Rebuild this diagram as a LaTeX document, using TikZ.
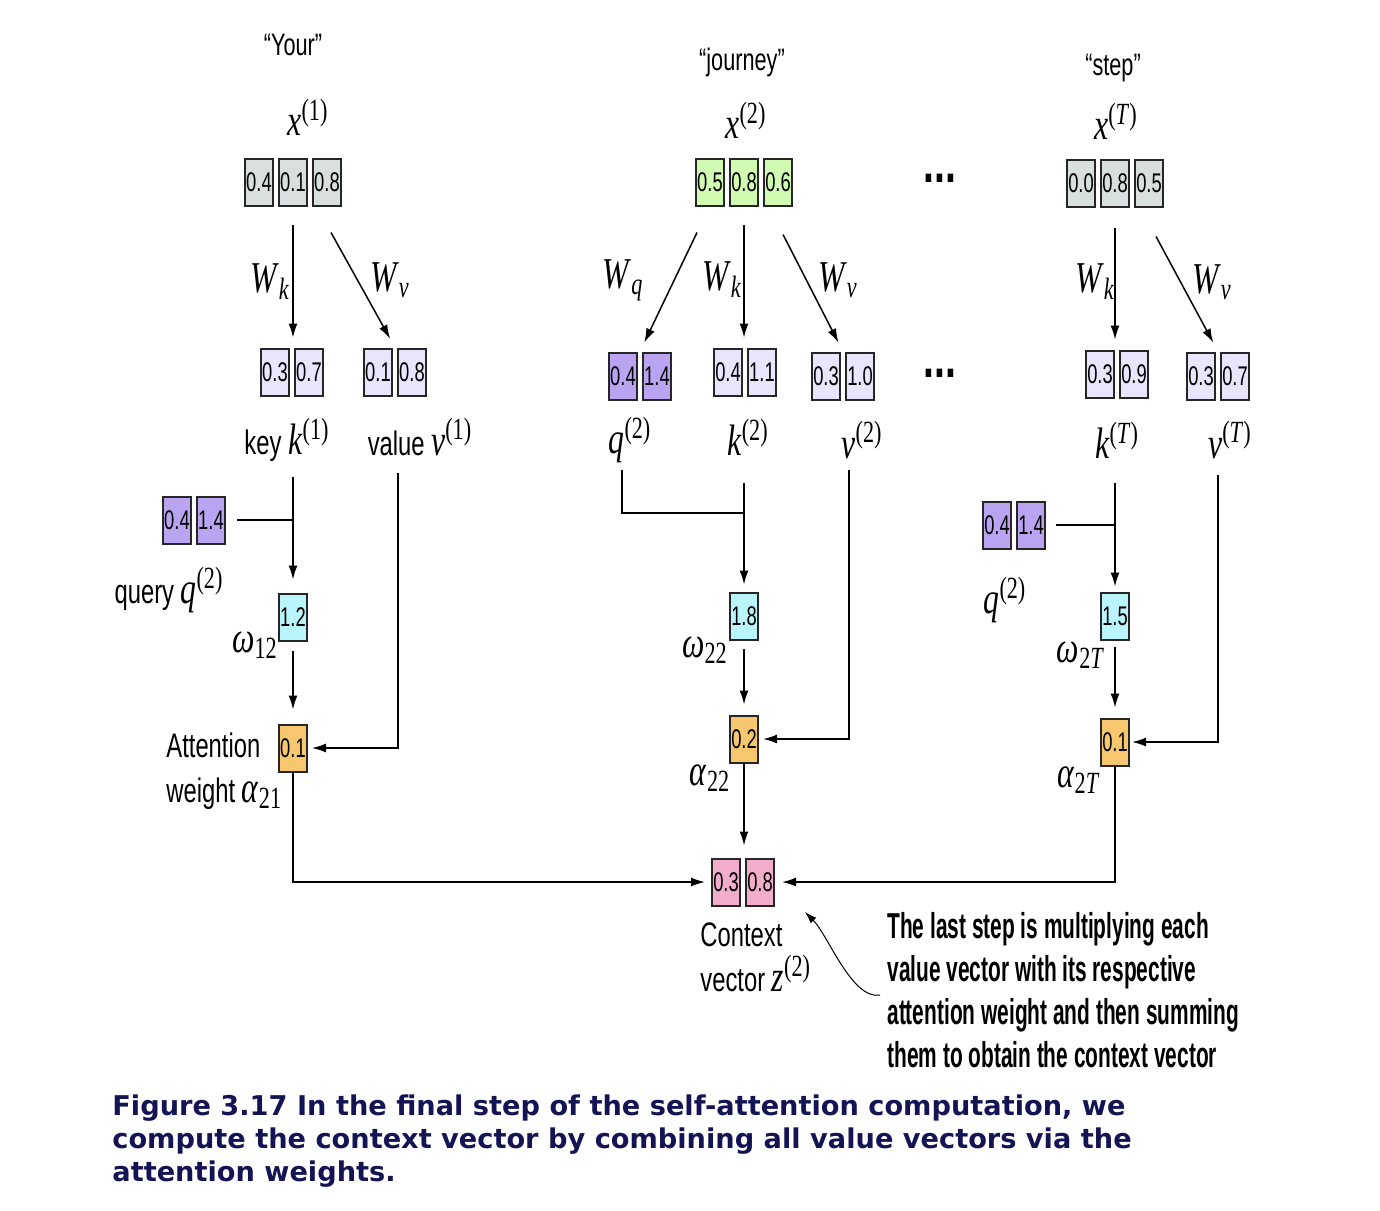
\documentclass[tikz,border=0pt]{standalone}
\usepackage{fontspec}
\setmainfont{Liberation Serif}
\newfontfamily\lblfont[FakeStretch=0.7]{Liberation Sans}
\newfontfamily\numfont[FakeStretch=0.68]{Liberation Sans}
\newfontfamily\varfont[FakeStretch=0.72]{Liberation Serif}
\newfontfamily\notefont[FakeStretch=0.58]{Liberation Sans}
\newfontfamily\capfont{DejaVu Sans}
\usetikzlibrary{positioning,arrows.meta,calc}

\definecolor{inGray}{RGB}{217,222,222}
\definecolor{inGreen}{RGB}{209,250,178}
\definecolor{kvLilac}{RGB}{233,229,252}
\definecolor{qPurple}{RGB}{186,164,242}
\definecolor{wCyan}{RGB}{186,244,252}
\definecolor{aOrange}{RGB}{247,199,112}
\definecolor{zPink}{RGB}{242,172,204}
\definecolor{capNavy}{RGB}{20,20,85}

\newcommand{\sym}[2]{{\varfont\fontsize{22}{24}\selectfont\textit{#1}\textsuperscript{(#2)}}}
\newcommand{\idx}[2]{{\varfont\fontsize{22}{24}\selectfont\textit{#1}\textsubscript{#2}}}

\begin{document}
\begin{tikzpicture}[
    x=0.5pt, y=-0.5pt,
    node distance=2pt,
    cell/.style={draw=black!85, line width=1pt, minimum width=14pt, minimum height=23.5pt, inner sep=0pt, font=\numfont\fontsize{13.5}{15}\selectfont},
    word/.style={inner sep=0pt, font=\lblfont\fontsize{15.5}{18}\selectfont},
    lbl/.style={inner sep=0pt, font=\lblfont\fontsize{17}{22.5}\selectfont},
    var/.style={inner sep=0pt},
    dots/.style={inner sep=0pt, font=\lblfont\bfseries\fontsize{28}{30}\selectfont},
    arr/.style={-{Latex[length=7pt,width=4.5pt]}, line width=0.75pt, shorten >=5pt},
    link/.style={line width=0.75pt}
]
    \useasboundingbox (0,0) rectangle (1380,1210);

    % tokens
    \node[word] (wYour) at (293,45) {“Your”};
    \node[word] (wJourney) at (742,62) {“journey”};
    \node[word] (wStep) at (1113,68) {“step”};
    \node[var] (lx1) at (308,117) {\sym{x}{1}};
    \node[var] (lx2) at (746,120) {\sym{x}{2}};
    \node[var] (lxT) at (1116,121) {\sym{x}{\textit{T}}};

    % input vectors
    \node[cell, fill=inGray] (x1a) at (259,182) {0.4};
    \node[cell, fill=inGray, right=of x1a] (x1b) {0.1};
    \node[cell, fill=inGray, right=of x1b] (x1c) {0.8};
    \node[cell, fill=inGreen] (x2a) at (710,182) {0.5};
    \node[cell, fill=inGreen, right=of x2a] (x2b) {0.8};
    \node[cell, fill=inGreen, right=of x2b] (x2c) {0.6};
    \node[cell, fill=inGray] (xTa) at (1081,183) {0.0};
    \node[cell, fill=inGray, right=of xTa] (xTb) {0.8};
    \node[cell, fill=inGray, right=of xTb] (xTc) {0.5};
    \node[dots] (dotsA) at (940,178) {...};

    % key, value, query vectors
    \node[cell, fill=kvLilac] (k1a) at (275,372) {0.3};
    \node[cell, fill=kvLilac, right=of k1a] (k1b) {0.7};
    \node[cell, fill=kvLilac] (v1a) at (378,372) {0.1};
    \node[cell, fill=kvLilac, right=of v1a] (v1b) {0.8};
    \node[cell, fill=qPurple] (q2a) at (623,376) {0.4};
    \node[cell, fill=qPurple, right=of q2a] (q2b) {1.4};
    \node[cell, fill=kvLilac] (k2a) at (728,372) {0.4};
    \node[cell, fill=kvLilac, right=of k2a] (k2b) {1.1};
    \node[cell, fill=kvLilac] (v2a) at (826,376) {0.3};
    \node[cell, fill=kvLilac, right=of v2a] (v2b) {1.0};
    \node[cell, fill=kvLilac] (kTa) at (1100,374) {0.3};
    \node[cell, fill=kvLilac, right=of kTa] (kTb) {0.9};
    \node[cell, fill=kvLilac] (vTa) at (1201,376) {0.3};
    \node[cell, fill=kvLilac, right=of vTa] (vTb) {0.7};
    \node[dots] (dotsB) at (940,373) {...};

    \node[var] (lWk1) at (270,282) {\idx{W}{\textit{k}}};
    \node[var] (lWv1) at (390,280) {\idx{W}{\textit{v}}};
    \node[var] (lWq2) at (623,280) {\idx{W}{\textit{q}}};
    \node[var] (lWk2) at (722,280) {\idx{W}{\textit{k}}};
    \node[var] (lWv2) at (838,280) {\idx{W}{\textit{v}}};
    \node[var] (lWkT) at (1095,282) {\idx{W}{\textit{k}}};
    \node[var] (lWvT) at (1212,282) {\idx{W}{\textit{v}}};

    \node[lbl] (lk1) at (287,440) {key \sym{k}{1}};
    \node[lbl] (lv1) at (420,437) {value \sym{v}{1}};
    \node[var] (lq2) at (630,440) {\sym{q}{2}};
    \node[var] (lk2) at (748,437) {\sym{k}{2}};
    \node[var] (lv2) at (862,440) {\sym{v}{2}};
    \node[var] (lkT) at (1117,440) {\sym{k}{\textit{T}}};
    \node[var] (lvT) at (1230,440) {\sym{v}{\textit{T}}};

    % query copies
    \node[cell, fill=qPurple] (qLa) at (177,520) {0.4};
    \node[cell, fill=qPurple, right=of qLa] (qLb) {1.4};
    \node[lbl] (lqL) at (169,590) {query \sym{q}{2}};
    \node[cell, fill=qPurple] (qRa) at (997,525) {0.4};
    \node[cell, fill=qPurple, right=of qRa] (qRb) {1.4};
    \node[var] (lqR) at (1005,600) {\sym{q}{2}};

    % scores and weights
    \node[cell, fill=wCyan] (w12) at (293,617) {1.2};
    \node[cell, fill=wCyan] (w22) at (744,616) {1.8};
    \node[cell, fill=wCyan] (w2T) at (1115,616) {1.5};
    \node[var] (lw12) at (255,645) {\idx{ω}{12}};
    \node[var] (lw22) at (705,650) {\idx{ω}{22}};
    \node[var] (lw2T) at (1081,655) {\idx{ω}{2\textit{T}}};

    \node[cell, fill=aOrange] (a21) at (293,748) {0.1};
    \node[cell, fill=aOrange] (a22) at (744,739) {0.2};
    \node[cell, fill=aOrange] (a2T) at (1115,742) {0.1};
    \node[lbl, anchor=west, align=left] (la21) at (166,771) {Attention\\weight \idx{α}{21}};
    \node[var] (la22) at (710,778) {\idx{α}{22}};
    \node[var] (la2T) at (1079,780) {\idx{α}{2\textit{T}}};

    % context vector
    \node[cell, fill=zPink] (z2a) at (726,882) {0.3};
    \node[cell, fill=zPink, right=of z2a] (z2b) {0.8};
    \node[lbl, anchor=west, align=left] (lz2) at (700,957) {Context\\vector \sym{z}{2}};

    \node[anchor=north west, inner sep=0pt, align=left, font=\notefont\bfseries\fontsize{18}{21.5}\selectfont] (note) at (887,912)
        {The last step is multiplying each\\value vector with its respective\\attention weight and then summing\\them to obtain the context vector};

    \node[anchor=north west, inner sep=0pt, align=left, text=capNavy, font=\capfont\bfseries\fontsize{13.6}{16.5}\selectfont] (caption) at (112,1094)
        {Figure 3.17 In the final step of the self-attention computation, we\\compute the context vector by combining all value vectors via the\\attention weights.};

    % free ends
    \coordinate (k1top) at (293,477);
    \coordinate (v1top) at (398,473);
    \coordinate (q2top) at (622,470);
    \coordinate (jk2) at (744,513);
    \coordinate (k2top) at (744,483);
    \coordinate (v2top) at (849,470);
    \coordinate (kTtop) at (1115,483);
    \coordinate (vTtop) at (1218,475);
    \coordinate (ctip) at (805,912);

    % projections
    \draw[arr] ($(x1b.south)+(0,18)$) -- (x1b.south |- k1a.north);
    \draw[arr] ($(x1c.south)+(4,26)$) -- ($(v1a.north east)!.5!(v1b.north west)$);
    \draw[arr] ($(x2a.south)+(-13,26)$) -- ($(q2a.north east)!.5!(q2b.north west)$);
    \draw[arr] ($(x2b.south)+(0,18)$) -- (x2b.south |- k2a.north);
    \draw[arr] ($(x2c.south)+(5,28)$) -- ($(v2a.north east)!.5!(v2b.north west)$);
    \draw[arr] ($(xTb.south)+(0,20)$) -- (xTb.south |- kTa.north);
    \draw[arr] ($(xTc.south)+(7,29)$) -- ($(vTa.north east)!.5!(vTb.north west)$);

    % token 1
    \draw[link, shorten <=5.5pt] (qLb.east) -- (qLb.east -| k1top);
    \draw[arr, shorten >=6.5pt] (k1top) -- (w12.north);
    \draw[arr, shorten <=4.5pt, shorten >=7pt] (w12.south) -- (a21.north);
    \draw[arr, shorten >=2pt] (v1top) |- (a21.east);
    \draw[arr, shorten >=3pt] (a21.south) |- (z2a.west);

    % token 2
    \draw[link] (q2top) |- (jk2);
    \draw[arr, shorten >=3.5pt] (k2top) -- (w22.north);
    \draw[arr, shorten <=4pt] (w22.south) -- (a22.north);
    \draw[arr, shorten >=2pt] (v2top) |- (a22.east);
    \draw[arr, shorten >=6pt] (a22.south) -- (a22.south |- z2a.north);

    % token T
    \draw[link, shorten <=5pt] (qRb.east) -- (qRb.east -| kTtop);
    \draw[arr, shorten >=2.5pt] (kTtop) -- (w2T.north);
    \draw[arr, shorten <=3pt] (w2T.south) -- (a2T.north);
    \draw[arr, shorten >=1pt] (vTtop) |- (a2T.east);
    \draw[arr, shorten >=3.5pt] (a2T.south) |- (z2b.east);

    % callout
    \draw[-{Latex[length=6pt,width=4pt]}, line width=0.5pt] ($(note.west)+(-7,5)$) .. controls (852,1000) and (828,935) .. (ctip);
\end{tikzpicture}
\end{document}
